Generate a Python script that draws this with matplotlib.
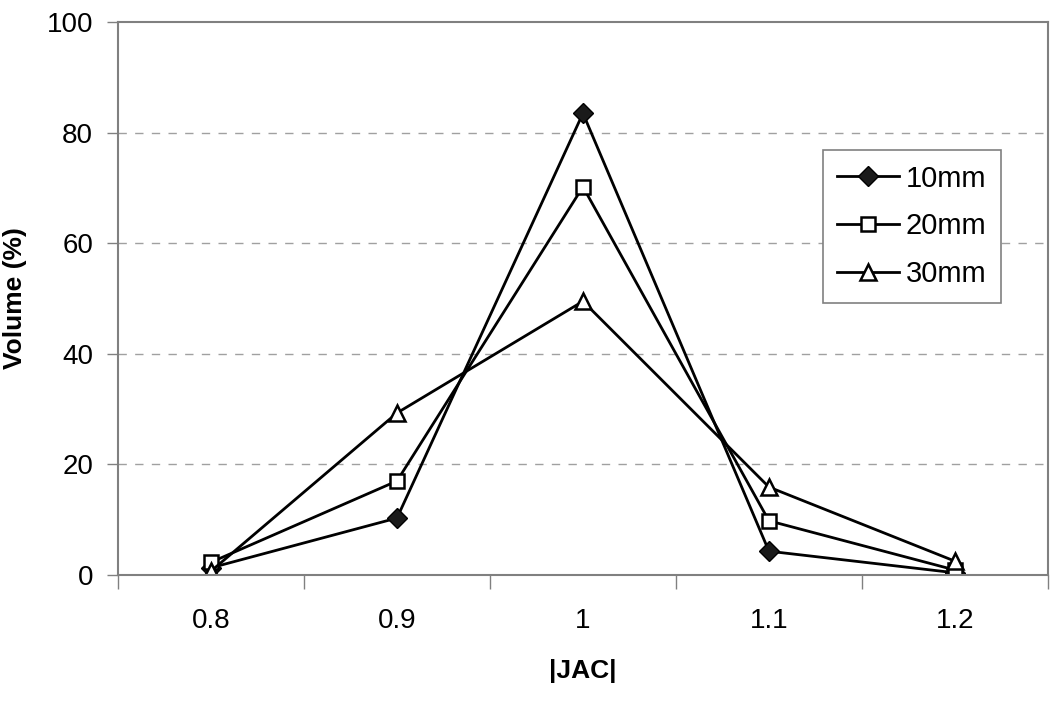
import matplotlib
matplotlib.use("Agg")
import matplotlib.pyplot as plt
import numpy as np

plt.rcParams['font.family'] = ['Liberation Sans', 'DejaVu Sans']

categories = ['0.8', '0.9', '1', '1.1', '1.2']
vol_10mm = [1.3, 10.3, 83.5, 4.3, 0.4]
vol_20mm = [2.3, 17.0, 70.2, 9.8, 0.9]
vol_30mm = [0.7, 29.3, 49.5, 15.9, 2.5]

x = np.arange(len(categories))

fig = plt.figure(figsize=(10.5, 7.11), dpi=100)
ax = fig.add_axes([0.1124, 0.1913, 0.8856, 0.7777])

ax.plot(x, vol_10mm, color='k', lw=2, marker='D', ms=10, mfc='#1a1a1a', mec='k', label='10mm')
ax.plot(x, vol_20mm, color='k', lw=2, marker='s', ms=10, mfc='white', mec='k', mew=1.8, label='20mm')
ax.plot(x, vol_30mm, color='k', lw=2, marker='^', ms=12, mfc='white', mec='k', mew=1.8, label='30mm')

ax.set_xlim(-0.5, len(categories) - 0.5)
ax.set_ylim(0, 100)
ax.set_xticks(x)
ax.set_xticklabels(categories)
ax.set_xticks(np.arange(len(categories) + 1) - 0.5, minor=True)
ax.tick_params(axis='x', which='major', length=0, pad=24, labelsize=20)
ax.tick_params(axis='x', which='minor', length=10, color='#808080', width=1)
ax.set_yticks(np.arange(0, 101, 20))
ax.tick_params(axis='y', length=8, color='#808080', width=1, labelsize=20, pad=10)

for yv in range(20, 100, 20):
    ax.axhline(yv, color='#a0a0a0', lw=1, ls=(0, (6, 6)), zorder=0)

for s in ax.spines.values():
    s.set_color('#808080')
    s.set_linewidth(1.5)

ax.set_xlabel('|JAC|', fontsize=19, fontweight='bold', labelpad=18)
ax.set_ylabel('Volume (%)', fontsize=19, fontweight='bold', labelpad=14)

leg = ax.legend(loc='upper left', bbox_to_anchor=(0.758, 0.7685), fontsize=21,
                fancybox=False, edgecolor='#808080', framealpha=1,
                handlelength=2.1, borderpad=0.5, labelspacing=0.68, handletextpad=0.25,
                borderaxespad=0)
leg.get_frame().set_linewidth(1.2)

fig.savefig('out.png', dpi=100)
